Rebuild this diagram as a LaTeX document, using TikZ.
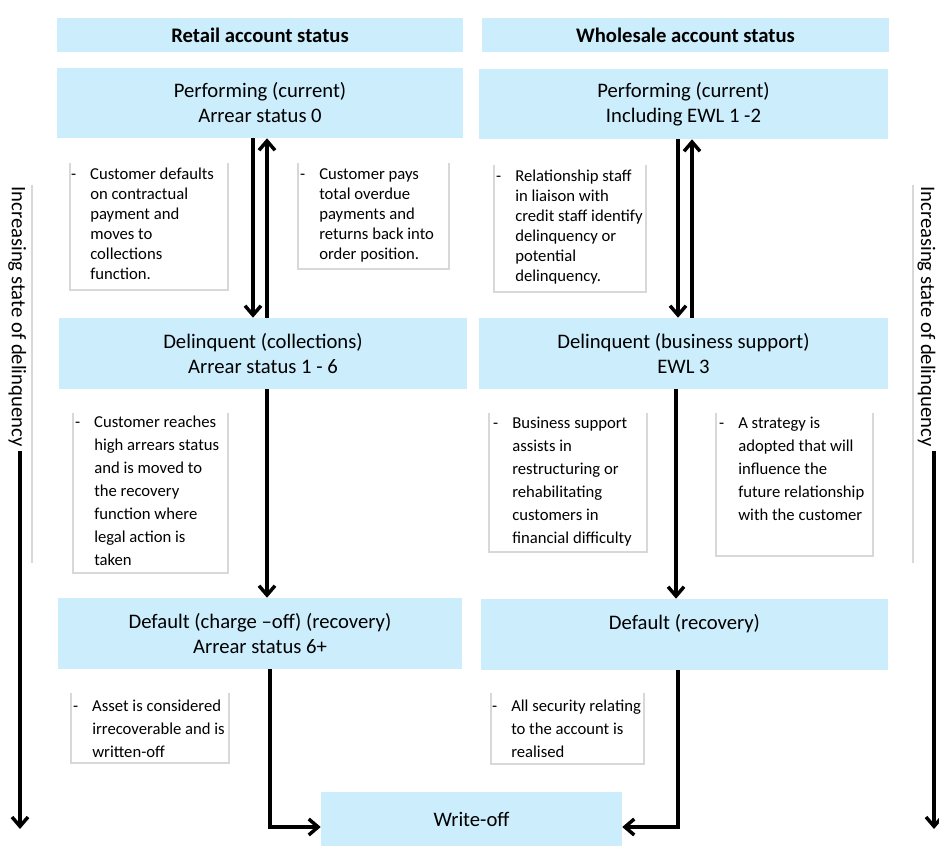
\documentclass[tikz,border=0pt]{standalone}
\usepackage{fontspec}
\setmainfont{Carlito}
\usetikzlibrary{arrows.meta}
\definecolor{stageblue}{RGB}{204,237,252}
\definecolor{framegray}{RGB}{216,216,216}
\newcommand\stagefont{\fontsize{15.5}{18.75}\selectfont}
\newcommand\notefont{\fontsize{12.5}{15}\selectfont}
\newcommand\notefontb{\fontsize{12.5}{17.25}\selectfont}
\newcommand\dashitem{\llap{-\hskip 10.5pt}}
\begin{document}
\begin{tikzpicture}[x=0.75pt, y=-0.75pt, >={Straight Barb[length=7pt,width=12pt]}]
  \tikzset{stage/.style={fill=stageblue, inner sep=0pt, align=center, font=\stagefont, minimum height=53.25pt},
    head/.style={stage, font=\stagefont\bfseries, minimum height=25.5pt},
    note/.style={anchor=north west, inner sep=0pt, align=left, font=\notefont},
    frame/.style={draw=framegray, line width=1pt},
    flow/.style={->, line width=2.6pt}}
  \useasboundingbox (0,0) rectangle (939,846);

  % column heads
  \node[head, minimum width=304.5pt] (rhead) at (260,35) {Retail account status};
  \node[head, minimum width=305.25pt] (whead) at (685.5,35) {Wholesale account status};

  % states
  \node[stage, minimum width=304.5pt, minimum height=52.5pt] (rperf) at (260,103) {Performing (current)\\Arrear status 0};
  \node[stage, minimum width=306.75pt, minimum height=52.5pt] (wperf) at (683.5,104) {Performing (current)\\Including EWL 1 -2};
  \node[stage, minimum width=306pt] (rdelq) at (263,353.5) {Delinquent (collections)\\Arrear status 1 - 6};
  \node[stage, minimum width=306.75pt] (wdelq) at (683.5,353.5) {Delinquent (business support)\\EWL 3};
  \node[stage, minimum width=303pt] (rdef) at (260,633.5) {Default (charge --off) (recovery)\\Arrear status 6+};
  \node[stage, minimum width=305.25pt, text depth=18.75pt] (wdef) at (684.5,634.5) {Default (recovery)};
  \node[stage, minimum width=225.75pt, minimum height=52.5pt, text depth=11pt] (woff) at (471.5,827) {Write-off};

  % notes
  \draw[frame] (70,163) |- (228,290) -- (228,163);
  \node[note] (n1) at (90,168) {\dashitem Customer defaults\\on contractual\\payment and\\moves to\\collections\\function.};
  \draw[frame] (298,163) |- (449,269) -- (449,163);
  \node[note] (n2) at (319,168) {\dashitem Customer pays\\total overdue\\payments and\\returns back into\\order position.};
  \draw[frame] (494,165) |- (646,292) -- (646,165);
  \node[note] (n3) at (515,170) {\dashitem Relationship staff\\in liaison with\\credit staff identify\\delinquency or\\potential\\delinquency.};
  \draw[frame] (73,413) |- (228,573) -- (228,413);
  \node[note, font=\notefontb] (n4) at (94,416) {\dashitem Customer reaches\\high arrears status\\and is moved to\\the recovery\\function where\\legal action is\\taken};
  \draw[frame] (489,413) |- (647,552) -- (647,413);
  \node[note, font=\notefontb] (n5) at (512,417) {\dashitem Business support\\assists in\\restructuring or\\rehabilitating\\customers in\\financial difficulty};
  \draw[frame] (716,413) |- (873,556) -- (873,413);
  \node[note, font=\notefontb] (n6) at (738,417) {\dashitem A strategy is\\adopted that will\\influence the\\future relationship\\with the customer};
  \draw[frame] (71,693) |- (229,763) -- (229,693);
  \node[note, font=\notefontb] (n7) at (92,700) {\dashitem Asset is considered\\irrecoverable and is\\written-off};
  \draw[frame] (491,693) |- (644,764) -- (644,693);
  \node[note, font=\notefontb] (n8) at (511,700) {\dashitem All security relating\\to the account is\\realised};

  % side scales
  \node[rotate=-90, anchor=base west, font=\stagefont, inner sep=3pt] (lscale) at (12,182) {Increasing state of delinquency};
  \node[rotate=-90, anchor=base west, font=\stagefont, inner sep=3pt] (rscale) at (921,182) {Increasing state of delinquency};
  \draw[frame] (32,185) -- (32,563);
  \draw[frame] (913,185) -- (913,563);
  \coordinate (lend) at (20,829);
  \coordinate (rend) at (934,829);
  \draw[flow] (lscale.east -| lend) -- (lend);
  \draw[flow] (rscale.east -| rend) -- (rend);

  % transitions
  \draw[flow] ([xshift=-5.25pt]rperf.south) -- ([xshift=-5.25pt]rperf.south |- rdelq.north);
  \draw[flow] ([xshift=3pt]rdelq.north) -- ([xshift=3pt]rdelq.north |- rperf.south);
  \draw[flow] ([xshift=-4.1pt]wperf.south) -- ([xshift=-4.1pt]wperf.south |- wdelq.north);
  \draw[flow] ([xshift=6.4pt]wdelq.north) -- ([xshift=6.4pt]wdelq.north |- wperf.south);
  \draw[flow] ([xshift=3pt]rdelq.south) -- ([xshift=3pt]rdelq.south |- rdef.north);
  \draw[flow] ([xshift=-5.6pt]wdelq.south) -- ([xshift=-5.6pt]wdelq.south |- wdef.north);
  \draw[flow] ([xshift=7.5pt]rdef.south) |- (woff.west);
  \draw[flow] ([xshift=-4.9pt]wdef.south) |- (woff.east);
\end{tikzpicture}
\end{document}
